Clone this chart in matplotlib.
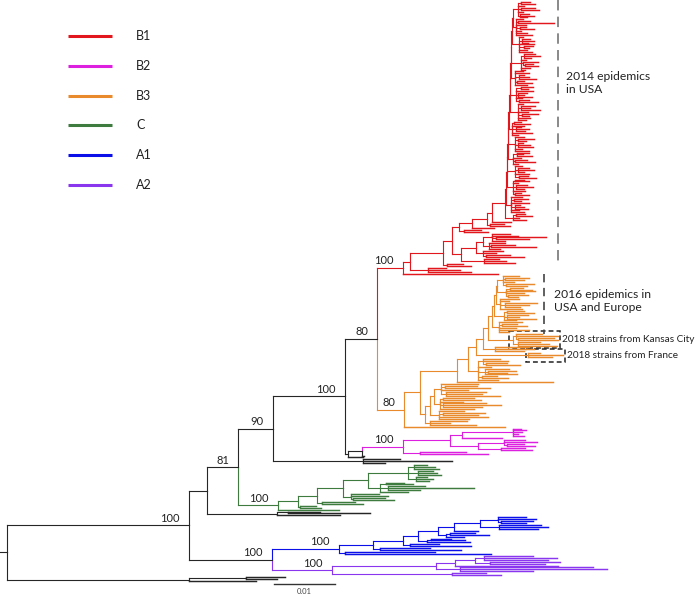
import matplotlib
matplotlib.use("Agg")
import matplotlib.pyplot as plt
from matplotlib.collections import LineCollection
from matplotlib.patches import Rectangle

plt.rcParams['font.family'] = ['Lato', 'DejaVu Sans']
plt.rcParams['lines.scale_dashes'] = False

# branch lengths in the newick strings are in units of 0.001 substitutions/site
UNIT = 0.001
SCALE_BAR = 0.01

CLADES = ['B1', 'B2', 'B3', 'C', 'A1', 'A2']
CLADE_COLORS = ['#e2171e', '#dd1fe0', '#e98a2c', '#3e7b3e', '#0b10e8', '#8a36ee']

# ---- B1 (red) ----
RED_SPINE = [
    "((:1.6,:2.4):0.4,:1.0,(:2.2,:2.9):0.5,:0.8,(:1.4,:2.3,:1.1):0.3):0.9",
    "(:1.1,(:1.9,:5.9):0.3,:1.5,(:0.9,:2.3):0.6,:0.7,:1.8,:2.6):0.6",
    "(:0.6,(:1.3,:2.0,:1.0):0.4,:2.4,(:1.6,:0.9):0.7,:1.2,:2.0):1.2",
    "((:1.8,:2.7,:1.2):0.5,:0.9,(:2.5,(:1.4,:2.1):0.3):0.4,:1.6,:0.7):1.5",
    "(:1.3,:2.2,(:0.8,:1.7,:2.9):0.6,(:1.1,:2.4):0.3,:1.9):0.7",
    "((:2.0,:1.2):0.8,:2.8,(:1.5,:0.9,:2.3):0.4,:1.0,(:1.7,:3.1):0.5):0.9",
    "(:0.8,(:2.2,:1.4,:3.0):0.5,:1.6,(:2.5,:1.1):0.7,:2.0,:1.3):1.4",
    "((:1.2,:2.6):0.3,:1.9,(:0.9,:2.1,:1.5):0.6,:3.2,:1.0):0.5",
    "(:1.5,(:2.7,:1.3):0.4,(:0.8,:1.9,:2.4):0.5,:1.1,:2.2):1.1",
    "((:1.9,:1.0,:2.5):0.7,:1.4,(:2.1,:3.3):0.3,:0.9):0.8",
    "(:1.2,(:1.8,:2.6,:1.0):0.5,:2.3,(:1.5,:2.9):0.6):1.3",
    "((:1.4,:2.2):0.4,:0.9,(:1.8,:2.7,:1.2):0.6,:2.0,(:1.1,:2.4):0.3):1.0",
    "(:1.7,(:2.3,:1.1):0.4,:2.8,(:0.9,:1.6,:2.2):0.5,:1.3,:2.0):0.9",
    "((:1.5,:2.6):0.5,:1.0,:2.1):1.2",
]
RED_MID = ("((((:3.0,:4.2,(:8.2,:5.5):0.6,:2.1):1.4,(:2.6,(:3.8,:7.4):0.4,:1.9):0.9):1.2,"
           "(:3.3,:2.2,(:4.0,:6.2):0.5):1.1):2.4,(:2.4,:3.6,:5.0):3.7)")
red_spine = f"({RED_SPINE[0]},{RED_SPINE[1]})"
for bush in RED_SPINE[2:]:
    red_spine = f"({red_spine}:0.1,{bush})"
red_l7 = f"({red_spine}:2.2,:3.2)"
red_l6 = f"({red_l7}:0.8,(:2.4,:3.3):0.4)"
red_l5 = f"({red_l6}:2.5,:3.6)"
red_l4 = f"({red_l5}:2.1,(:2.8,:4.0):0.8)"
red_l3 = f"({red_l4}:1.1,{RED_MID}:1.5)@E14"
red_l2 = f"({red_l3}:1.6,(:2.6,:3.9):0.7)"
red_l1 = f"({red_l2}:5.4,(:3.0,:5.2,:7.0):3.0)"
B1_TREE = f"({red_l1}:1.1,:15.6)"

# ---- B3 (orange) ----
ORANGE_TOP = [
    "(:2.6,(:3.9,:3.1):0.4,:1.8,(:4.6,:3.4):0.5):0.9",
    "((:2.2,:3.7):0.6,:4.8,:2.9,(:3.3,:1.6):0.3):1.4",
    "(:3.1,:1.4,(:5.3,:4.0,:2.5):0.7,:3.6):0.8",
    "((:2.7,:4.4):0.5,(:3.5,:2.0,:4.9):0.4,:1.9):1.7",
    "(:3.8,(:2.4,:4.1):0.6,:2.8,:5.0,:1.7):1.1",
]
ORANGE_KC = "((:4.2,:6.8,(:5.9,:6.6):0.3):0.6,(:3.6,:5.1,:6.3):0.9)"
ORANGE_FR = "(:2.0,:5.7,:3.9)"
ORANGE_MID = "((:2.8,:4.1,(:3.5,:5.6):0.4):0.9,:2.2,(:3.9,(:4.6,:3.0):0.5,:5.2):1.2,(:2.6,:4.4):0.6,:3.3)"
ORANGE_LOW = [
    "(:6.0,(:5.2,:7.4):0.6,:4.3,(:6.5,:5.8,:8.9):0.8):1.2",
    "((:5.0,:6.2):0.5,:3.8,(:7.1,:9.6,:6.4):0.4,:5.5):1.0",
    "(:4.1,(:6.9,:5.7):0.7,:8.1,:4.9):1.5",
    "(:6.0,:3.2,:7.5):0.9",
]
orange_top = f"({ORANGE_TOP[0]},{ORANGE_TOP[1]})"
for bush in ORANGE_TOP[2:]:
    orange_top = f"({orange_top}:0.3,{bush})"
orange_low = f"((({ORANGE_LOW[0]},{ORANGE_LOW[1]}):0.7,{ORANGE_LOW[2]}):0.8,{ORANGE_LOW[3]})"
orange_o6 = f"({orange_top}@E16:0.7,{ORANGE_KC}@KC:4.1)"
orange_o5 = f"({orange_o6}:0.8,(:5.5,:6.4,:4.7):2.0)"
orange_o4 = f"({orange_o5}:1.1,{ORANGE_FR}@FR:8.5)"
orange_o3 = f"({orange_o4}:1.3,{ORANGE_MID}:1.6)"
orange_o2 = f"({orange_o3}:1.8,:15.7)"
orange_o1 = f"({orange_o2}:6.1,{orange_low}:0.8)"
B3_TREE = f"({orange_o1}:2.6,:16.5)"

# ---- B2 (magenta) ----
B2_TREE = ("((((:1.2,:2.0,:1.5,:0.8,:1.7):8.4,:6.5):2.0,"
           "((:3.5,:5.4,(:2.8,:4.6):0.4):4.3,(:3.9,:5.0):3.8):4.6):7.7,"
           "(:7.6,:11.1):2.8)")
BLACK_1 = "(:6.0,:14.6,:3.5)"

# ---- C (green) ----
green_g4 = ("(((:2.1,:3.4,:4.0):1.0,(:2.5,:3.1,:3.7):1.6,(:1.8,:2.9,:2.2):1.2):6.6,"
            "((:3.0,:4.4):0.9,(:6.1,:14.0,:5.2):1.3,:4.6):2.0)")
green_g3 = f"({green_g4}:4.1,(:4.6,:6.0,(:5.2,:6.6):0.4):1.3)"
green_g2 = f"({green_g3}:4.3,(:5.5,:6.8):0.8)"
green_g1 = f"({green_g2}:3.1,(:2.5,:3.4):0.4)"
C_TREE = f"({green_g1}:3.3,:10.0)"
BLACK_2 = "((:5.2,:13.4):1.8,:10.3)"

# ---- A1 (blue) ----
blue_q6 = "((:4.6,:6.2,(:5.3,:4.1):0.5):2.9,(:7.0,:8.1,:6.4):3.0)"
blue_q5 = f"({blue_q6}:4.4,:4.0)"
blue_q4 = f"({blue_q5}:2.5,((:4.0,:6.3):0.8,:3.0):1.2)"
blue_q3 = f"({blue_q4}:3.3,((:3.3,:5.6):0.6,:7.0):1.5)"
blue_q2 = f"({blue_q3}:2.5,(:4.8,:9.9):1.2)"
blue_q1 = f"({blue_q2}:4.9,(:8.2,:13.4):1.1)"
A1_TREE = f"({blue_q1}:5.6,(:14.8,:24.0):1.0)"

# ---- A2 (purple) ----
purple_p2 = "(((:8.1,:12.0,:10.5):1.5,(:11.5,:9.0):2.5):3.3,:17.0)"
purple_p1 = f"({purple_p2}:3.0,(:21.8,:24.1,:12.0):3.8)"
A2_TREE = f"({purple_p1}:17.2,(:5.5,:8.0):19.8)"

OUTGROUP = "((:6.4,:5.2):9.3,:11.0)"

# ---- backbone with bootstrap supports ----
n377 = f"({B1_TREE}100@B1:4.2,{B3_TREE}80@B3:4.4)80"
n348 = f"(({B2_TREE}100@B2:6.7,:0.4):2.3,:2.4)"
n345 = f"({n377}:5.3,{n348}:0.5)100"
n273 = f"({n345}:11.8,{BLACK_1}:14.8)90"
n238 = f"({n273}:5.7,{C_TREE}100@C:6.5)81"
n207 = f"({n238}:5.1,{BLACK_2}:11.5)"
n_a = f"({A1_TREE}100@A1:11.0,{A2_TREE}100@A2:9.8)100"
n189 = f"({n207}:3.0,{n_a}:13.6)100"
TREE = f"({n189}:29.8,{OUTGROUP}:29.8);"


def parse_newick(text):
    s = "".join(text.split())
    pos = 0

    def node():
        nonlocal pos
        n = {'kids': [], 'label': '', 'len': 0.0}
        if s[pos] == '(':
            pos += 1
            n['kids'].append(node())
            while s[pos] == ',':
                pos += 1
                n['kids'].append(node())
            pos += 1
        start = pos
        while s[pos] not in ':,);':
            pos += 1
        n['label'] = s[start:pos]
        if s[pos] == ':':
            pos += 1
            start = pos
            while s[pos] not in ',);':
                pos += 1
            n['len'] = float(s[start:pos])
        return n

    return node()


tree = parse_newick(TREE)
colors = dict(zip(CLADES, CLADE_COLORS))
tagged = {}
internal = []
leaf_count = [0]


def layout(n, x_parent, color):
    sup, _, tag = n['label'].partition('@')
    color = colors.get(tag, color)
    n['x'] = x_parent + n['len'] * UNIT
    n['color'] = color
    n['support'] = sup
    if tag:
        tagged[tag] = n
    if n['kids']:
        for k in n['kids']:
            layout(k, n['x'], color)
        n['y'] = (n['kids'][0]['y'] + n['kids'][-1]['y']) / 2
        n['ymin'] = n['kids'][0]['ymin']
        n['ymax'] = n['kids'][-1]['ymax']
        n['xmax'] = max(k['xmax'] for k in n['kids'])
        internal.append(n)
    else:
        n['y'] = leaf_count[0]
        leaf_count[0] += 1
        n['ymin'] = n['ymax'] = n['y']
        n['xmax'] = n['x']


layout(tree, 0.0, '#262626')
N = leaf_count[0]

segs, seg_colors, seg_widths = [], [], []
for n in internal:
    for k in n['kids']:
        segs.append([(n['x'], n['y']), (n['x'], k['y'])])
        segs.append([(n['x'], k['y']), (k['x'], k['y'])])
        seg_colors += [k['color'], k['color']]
        seg_widths += [0.8, 0.8 if k['kids'] else 1.05]

W, H = 700, 595
PX = SCALE_BAR / 61          # one pixel of the reference in substitutions/site
spacing = 579 / (N - 1)      # pixels per leaf


def ypx(py):
    return (py - 2) / spacing


fig = plt.figure(figsize=(W / 100, H / 100), dpi=100)
ax = fig.add_axes([0, 0, 1, 1])
ax.axis('off')
ax.set_xlim(-7 * PX, (W - 7) * PX)
ax.set_ylim(ypx(H), ypx(0))

ax.add_collection(LineCollection(segs, colors=seg_colors, linewidths=seg_widths,
                                 capstyle='projecting'))
ax.plot([-7 * PX, 0], [tree['y'], tree['y']], color='#262626', lw=0.8)

for n in internal:
    if n['support']:
        ax.annotate(n['support'], (n['x'], n['y']), xytext=(-9, 3.5),
                    textcoords='offset pixels', ha='right', va='baseline',
                    fontsize=8, color='#222222')

# epidemic annotations
e14 = tagged['E14']
x14 = e14['xmax'] + 4 * PX
ax.plot([x14, x14], [ypx(0), e14['ymax'] + 1.5], color='#808080', lw=1.3,
        dashes=(7.5, 4.5))
ax.text(x14 + 8 * PX, ypx(83), "2014 epidemics\nin USA", fontsize=8.7,
        va='center', ha='left', color='#222222', linespacing=1.3)

e16 = tagged['E16']
x16 = e16['xmax'] + 7 * PX
ax.plot([x16, x16], [e16['ymin'] - 1, e16['ymax'] + 1], color='#444444', lw=1.2,
        dashes=(6, 4))
ax.text(x16 + 10 * PX, ypx(301), "2016 epidemics in\nUSA and Europe", fontsize=8.7,
        va='center', ha='left', color='#222222', linespacing=1.3)

for tag, text, pad_l, pad_y in [('KC', "2018 strains from Kansas City", 4, 2.5),
                                ('FR', "2018 strains from France", 2, 4.5)]:
    c = tagged[tag]
    x0 = c['x'] - pad_l * PX
    x1 = c['xmax'] + 2 * PX
    y0 = c['ymin'] - pad_y / spacing
    y1 = c['ymax'] + pad_y / spacing
    ax.add_patch(Rectangle((x0, y0), x1 - x0, y1 - y0, fill=False,
                           ec='#222222', lw=1.1, ls=(0, (3.5, 2.2))))
    ax.text(x1 + 2 * PX, (y0 + y1) / 2, text, fontsize=7.2, va='center',
            ha='left', color='#222222')

# scale bar
sb_x = 267 * PX
ax.plot([sb_x, sb_x + SCALE_BAR], [ypx(584), ypx(584)], color='#333333', lw=1.0)
ax.text(sb_x + SCALE_BAR / 2, ypx(592), "0.01", fontsize=5.5, ha='center',
        va='center', color='#444444')

# legend
ov = fig.add_axes([0, 0, 1, 1], facecolor='none')
ov.axis('off')
ov.set_xlim(0, W)
ov.set_ylim(H, 0)
for i, (name, col) in enumerate(zip(CLADES, CLADE_COLORS)):
    y = 36 + 29.8 * i
    ov.plot([68, 112], [y, y], color=col, lw=2.2, solid_capstyle='butt')
    ov.text(136, y, name, fontsize=9, va='center', ha='left', color='#222222')

fig.savefig('out.png', dpi=100)
